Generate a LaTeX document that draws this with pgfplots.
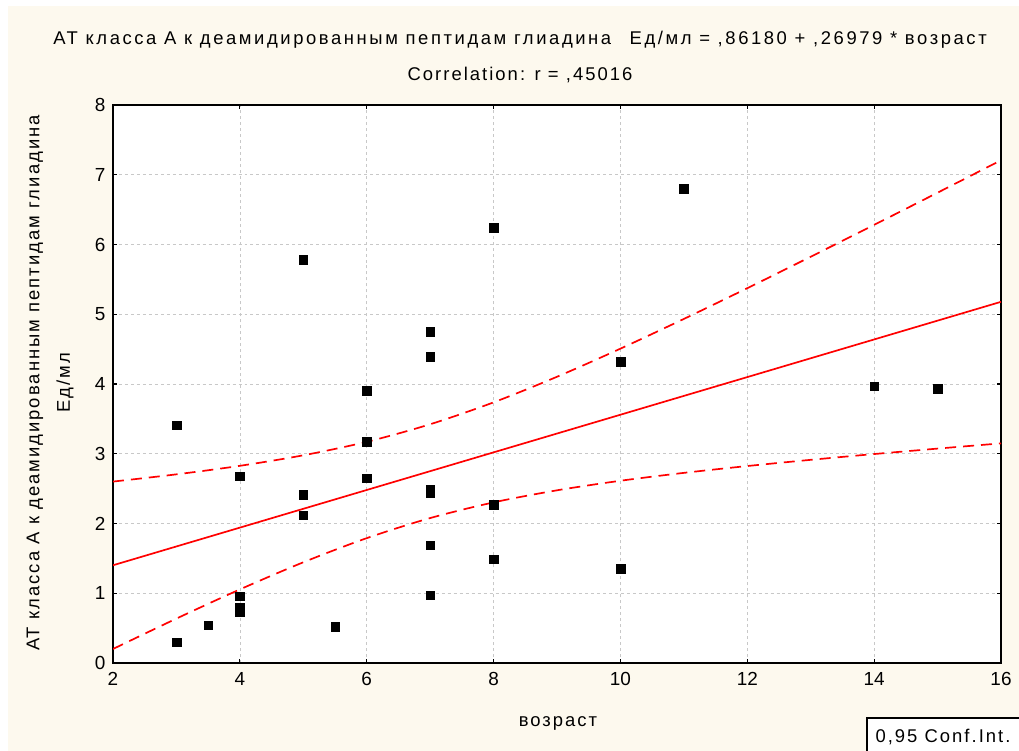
\documentclass[border=0pt]{standalone}
\usepackage{pgfplots}
\pgfplotsset{compat=1.18}
\usepackage{fontspec}
\setmainfont{Liberation Sans}
\newfontfamily\spaced[LetterSpace=11]{Liberation Sans}
\newfontfamily\widespaced[LetterSpace=14]{Liberation Sans}
\definecolor{panel}{HTML}{FDF9EE}
\definecolor{gridgray}{HTML}{C8C8C8}
\definecolor{fitred}{HTML}{FF0000}
\tikzset{lbl/.style={font=\fontsize{18.5}{22}\spaced}}

\begin{document}
\begin{tikzpicture}
% page and panel background
\fill[white] (0bp,0bp) rectangle (1019bp,-751bp);
\fill[panel] (8bp,-6bp) rectangle (1019bp,-751bp);

% titles
\node[font=\fontsize{18.5}{22}\widespaced] at (520bp,-40bp)
  {АТ класса А к деамидированным пептидам глиадина\quad Ед/мл = ,86180 + ,26979 * возраст};
\node[lbl] at (520bp,-75bp) {Correlation: r = ,45016};

% y label (two lines)
\node[rotate=90,lbl] at (35bp,-383bp)
  {АТ класса А к деамидированным пептидам глиадина};
\node[rotate=90,lbl] at (65bp,-383bp) {Ед/мл};

% x label
\node[lbl] at (558bp,-723bp) {возраст};

\begin{axis}[
  at={(113bp,-663bp)}, anchor=south west,
  scale only axis, width=888bp, height=558bp,
  xmin=2, xmax=16, ymin=0, ymax=8,
  xtick={2,4,...,16}, ytick={0,1,...,8},
  axis background/.style={fill=white},
  axis line style={black, line width=2.2pt},
  tick style={black, line width=1.2pt},
  tick align=inside, major tick length=4bp,
  grid=major,
  major grid style={gridgray, dashed, line width=0.7pt},
  tick label style={font=\fontsize{19}{22}\selectfont},
  /pgf/number format/assume math mode=true,
  xticklabel style={yshift=-6bp},
  yticklabel style={xshift=-4bp},
  clip=true,
]
% confidence band, upper
\addplot[fitred, line width=1.7pt, dash pattern=on 11bp off 7bp, smooth] coordinates {
  (2,2.601) (3,2.705) (4,2.827) (5,2.978) (6,3.171) (7,3.423) (8,3.737)
  (9,4.104) (10,4.507) (11,4.933) (12,5.374) (13,5.825) (14,6.282)
  (15,6.743) (16,7.208)};
% confidence band, lower
\addplot[fitred, line width=1.7pt, dash pattern=on 11bp off 7bp, smooth] coordinates {
  (2,0.201) (3,0.637) (4,1.055) (5,1.444) (6,1.790) (7,2.078) (8,2.303)
  (9,2.476) (10,2.613) (11,2.726) (12,2.824) (13,2.913) (14,2.996)
  (15,3.074) (16,3.149)};
% regression line
\addplot[fitred, line width=1.7pt] coordinates {(2,1.4014) (16,5.1784)};
% observations
\addplot[only marks, mark=square*, mark size=4.3bp, black] coordinates {
  (3,0.30) (3,3.41) (3.5,0.54) (4,2.68) (4,0.96) (4,0.80) (4,0.73)
  (5,5.78) (5,2.41) (5,2.12) (5.5,0.52)
  (6,3.90) (6,3.17) (6,2.65)
  (7,4.75) (7,4.39) (7,2.49) (7,2.44) (7,1.69) (7,0.97)
  (8,6.24) (8,2.27) (8,1.49)
  (10,4.32) (10,1.35) (11,6.80) (14,3.97) (15,3.93)};
\end{axis}

% confidence interval key
\begin{scope}
\clip (0bp,0bp) rectangle (1019bp,-751bp);
\draw[black, line width=1.2pt, fill=white] (867bp,-718bp) rectangle (1025bp,-760bp);
\end{scope}
\node[anchor=west, lbl] at (872bp,-737bp) {0,95 Conf.Int.};
\end{tikzpicture}
\end{document}
